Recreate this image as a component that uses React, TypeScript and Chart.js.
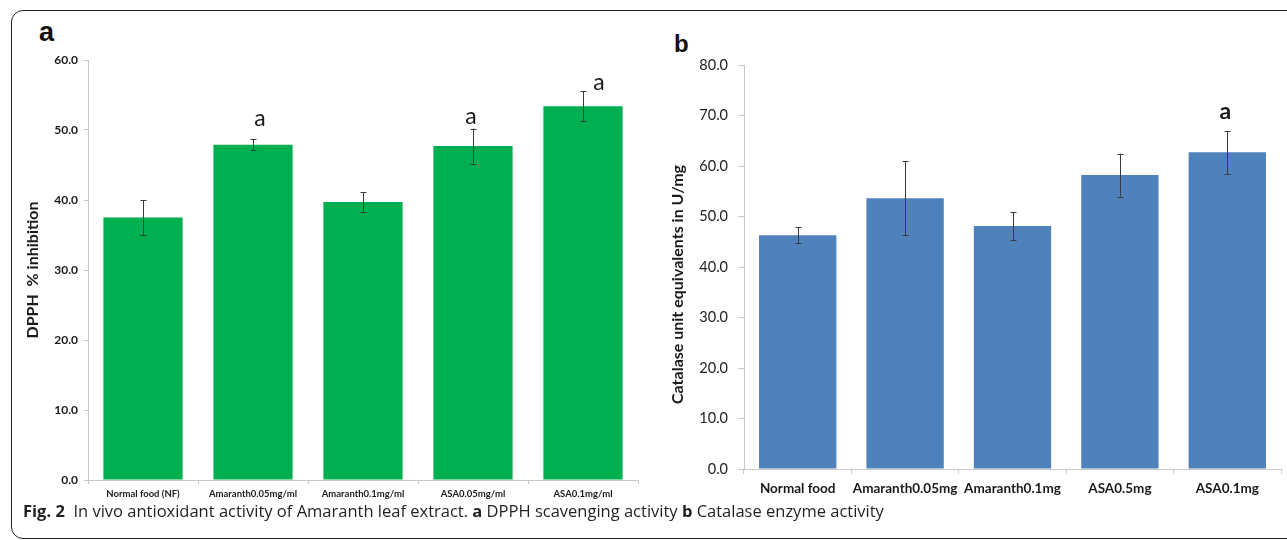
import React, { useEffect, useRef } from "react";
import { Chart, registerables } from "chart.js";

Chart.register(...registerables);

// ---------- Data ----------
const dpphCategories = [
  "Normal food (NF)",
  "Amaranth0.05mg/ml",
  "Amaranth0.1mg/ml",
  "ASA0.05mg/ml",
  "ASA0.1mg/ml",
];
const dpphValues = [37.5, 47.9, 39.7, 47.7, 53.4];
const dpphErrors = [2.5, 0.8, 1.4, 2.5, 2.1];
const dpphLetters = ["", "a", "", "a", "a"];
const dpphMax = 60;

const catCategories = ["Normal food", "Amaranth0.05mg", "Amaranth0.1mg", "ASA0.5mg", "ASA0.1mg"];
const catValues = [46.3, 53.6, 48.1, 58.2, 62.7];
const catErrors = [1.6, 7.3, 2.8, 4.25, 4.25];
const catLetters = ["", "", "", "", "a"];
const catMax = 80;

const tickStep = 10;

// ---------- Styles (not data) ----------
const dpphLetterPos = [[0, 0], [7, 13], [0, 0], [-2, 5], [16, 2]];
const catLetterPos = [[0, 0], [0, 0], [0, 0], [0, 0], [-2, 12]];

const errorBarPlugin = {
  id: "errorBars",
  afterDatasetsDraw(chart: any, _args: any, opts: any) {
    const { ctx } = chart;
    const meta = chart.getDatasetMeta(0);
    const yScale = chart.scales.y;
    const values = chart.data.datasets[0].data as number[];
    meta.data.forEach((bar: any, i: number) => {
      const v = values[i];
      const e = opts.errors[i];
      const x = Math.round(bar.x) + 0.5;
      const yTop = yScale.getPixelForValue(v + e);
      const yBot = yScale.getPixelForValue(v - e);
      ctx.save();
      ctx.strokeStyle = opts.color;
      ctx.lineWidth = 1;
      ctx.beginPath();
      ctx.moveTo(x, yTop);
      ctx.lineTo(x, yBot);
      ctx.moveTo(x - opts.cap, Math.round(yTop) + 0.5);
      ctx.lineTo(x + opts.cap, Math.round(yTop) + 0.5);
      ctx.moveTo(x - opts.cap, Math.round(yBot) + 0.5);
      ctx.lineTo(x + opts.cap, Math.round(yBot) + 0.5);
      ctx.stroke();
      const letter = opts.letters[i];
      if (letter) {
        const [dx, gap] = opts.letterPos[i];
        ctx.font = opts.letterFont;
        ctx.fillStyle = "#1a1a1a";
        ctx.textAlign = "center";
        ctx.textBaseline = "alphabetic";
        ctx.fillText(letter, bar.x + dx, yTop - gap);
      }
      ctx.restore();
    });
  },
};

type PanelProps = {
  categories: string[];
  values: number[];
  errors: number[];
  letters: string[];
  letterPos: number[][];
  letterFont: string;
  max: number;
  color: string;
  width: number;
  height: number;
  padding: { left: number; top: number; right: number; bottom: number };
  yWidth: number;
  xHeight: number;
  yTickFont: any;
  yTickColor: string;
  yTickLen: number;
  yTickPad: number;
  xTickFont: any;
  xTickLen: number;
  xTickPad: number;
  title: string;
  titleFont: any;
};

function Panel(p: PanelProps) {
  const ref = useRef<HTMLCanvasElement | null>(null);
  useEffect(() => {
    if (!ref.current) return;
    const chart = new Chart(ref.current, {
      type: "bar",
      data: {
        labels: p.categories,
        datasets: [
          {
            data: p.values,
            backgroundColor: p.color,
            borderWidth: 0,
            categoryPercentage: 0.72,
            barPercentage: 1,
          },
        ],
      },
      options: {
        responsive: false,
        animation: false,
        events: [],
        layout: { padding: p.padding },
        plugins: {
          legend: { display: false },
          tooltip: { enabled: false },
          errorBars: {
            errors: p.errors,
            letters: p.letters,
            letterPos: p.letterPos,
            letterFont: p.letterFont,
            color: "#3a3a3a",
            cap: 3,
          },
        } as any,
        scales: {
          x: {
            afterFit: (s: any) => {
              s.height = p.xHeight;
            },
            grid: {
              offset: true,
              drawOnChartArea: false,
              drawTicks: true,
              tickLength: p.xTickLen,
              color: "#c8c8c8",
            },
            border: { display: true, color: "#c8c8c8", width: 1 },
            ticks: {
              font: p.xTickFont,
              color: "#1a1a1a",
              padding: p.xTickPad,
              maxRotation: 0,
              autoSkip: false,
            },
          },
          y: {
            min: 0,
            max: p.max,
            afterFit: (s: any) => {
              s.width = p.yWidth;
            },
            grid: {
              drawOnChartArea: false,
              drawTicks: true,
              tickLength: p.yTickLen,
              color: "#c8c8c8",
            },
            border: { display: true, color: "#c8c8c8", width: 1 },
            ticks: {
              stepSize: tickStep,
              font: p.yTickFont,
              color: p.yTickColor,
              padding: p.yTickPad,
              callback: (v: any) => Number(v).toFixed(1),
            },
            title: {
              display: true,
              text: p.title,
              font: p.titleFont,
              color: "#1a1a1a",
              padding: { top: 4, bottom: 4 },
            },
          },
        },
      },
      plugins: [errorBarPlugin as any],
    });
    return () => chart.destroy();
  }, []);
  return (
    <canvas
      ref={ref}
      width={p.width}
      height={p.height}
      style={{ width: p.width, height: p.height, display: "block" }}
    />
  );
}

export default function App() {
  return (
    <div
      style={{
        position: "absolute",
        left: 0,
        top: 0,
        width: 1287,
        height: 540,
        background: "#fff",
        overflow: "hidden",
      }}
    >
      <div
        style={{
          position: "absolute",
          left: 10.5,
          top: 9.5,
          width: 1400,
          height: 527,
          border: "1.5px solid #222",
          borderRadius: 12,
        }}
      />
      <div
        style={{
          position: "absolute",
          left: 39,
          top: 19,
          font: "bold 27px 'Liberation Sans', Arial, sans-serif",
          lineHeight: "27px",
          color: "#111",
        }}
      >
        a
      </div>
      <div
        style={{
          position: "absolute",
          left: 674,
          top: 32,
          font: "bold 24px 'Liberation Sans', Arial, sans-serif",
          lineHeight: "24px",
          color: "#111",
        }}
      >
        b
      </div>
      <div style={{ position: "absolute", left: 0, top: 40 }}>
        <Panel
          categories={dpphCategories}
          values={dpphValues}
          errors={dpphErrors}
          letters={dpphLetters}
          letterPos={dpphLetterPos}
          letterFont="23px Lato"
          max={dpphMax}
          color="#00B050"
          width={650}
          height={470}
          padding={{ left: 19, top: 20, right: 12, bottom: 0 }}
          yWidth={69}
          xHeight={30}
          yTickFont={{ family: "Lato", size: 12, weight: "bold" }}
          yTickColor="#1a1a1a"
          yTickLen={4}
          yTickPad={6}
          xTickFont={{ family: "Lato", size: 9.5, weight: "bold" }}
          xTickLen={4}
          xTickPad={4}
          title="DPPH  % inhibition"
          titleFont={{ family: "Lato", size: 16, weight: "bold" }}
        />
      </div>
      <div style={{ position: "absolute", left: 640, top: 40 }}>
        <Panel
          categories={catCategories}
          values={catValues}
          errors={catErrors}
          letters={catLetters}
          letterPos={catLetterPos}
          letterFont="bold 23px Lato"
          max={catMax}
          color="#4F81BD"
          width={647}
          height={470}
          padding={{ left: 24, top: 25, right: 6, bottom: 0 }}
          yWidth={80}
          xHeight={41}
          yTickFont={{ family: "Lato", size: 14.5 }}
          yTickColor="#222"
          yTickLen={6}
          yTickPad={10}
          xTickFont={{ family: "Lato", size: 13.5, weight: "bold" }}
          xTickLen={5}
          xTickPad={7}
          title="Catalase unit equivalents in U/mg         "
          titleFont={{ family: "Lato", size: 16, weight: "bold" }}
        />
      </div>
      <div
        style={{
          position: "absolute",
          left: 23,
          top: 501,
          font: "16.5px 'Open Sans', sans-serif",
          lineHeight: "20px",
          color: "#231f20",
          whiteSpace: "nowrap",
        }}
      >
        <b>Fig. 2</b>&nbsp; In vivo antioxidant activity of Amaranth leaf extract. <b>a</b> DPPH scavenging
        activity <b>b</b> Catalase enzyme activity
      </div>
    </div>
  );
}
